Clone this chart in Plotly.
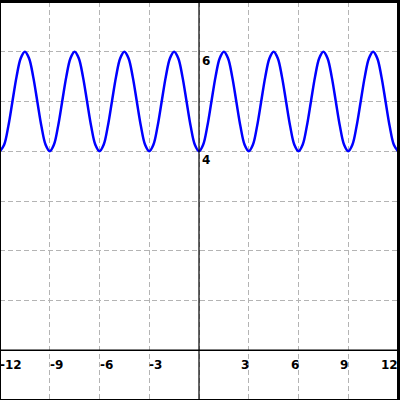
import plotly.graph_objects as go

# Curve samples (step 0.25 in x)
x_start = -12.0
x_step = 0.25
y_values = [
    4, 4.13, 4.5, 5, 5.5, 5.87, 6, 5.87, 5.5, 5, 4.5, 4.13,
    4, 4.13, 4.5, 5, 5.5, 5.87, 6, 5.87, 5.5, 5, 4.5, 4.13,
    4, 4.13, 4.5, 5, 5.5, 5.87, 6, 5.87, 5.5, 5, 4.5, 4.13,
    4, 4.13, 4.5, 5, 5.5, 5.87, 6, 5.87, 5.5, 5, 4.5, 4.13,
    4, 4.13, 4.5, 5, 5.5, 5.87, 6, 5.87, 5.5, 5, 4.5, 4.13,
    4, 4.13, 4.5, 5, 5.5, 5.87, 6, 5.87, 5.5, 5, 4.5, 4.13,
    4, 4.13, 4.5, 5, 5.5, 5.87, 6, 5.87, 5.5, 5, 4.5, 4.13,
    4, 4.13, 4.5, 5, 5.5, 5.87, 6, 5.87, 5.5, 5, 4.5, 4.13,
    4,
]
x_values = [x_start + i * x_step for i in range(len(y_values))]

x_tick_vals = [-12, -9, -6, -3, 3, 6, 9, 12]
x_tick_text = ["-12", "-9", "-6", "-3", "3", "6", "9", "12"]
y_tick_vals = [6, 4]
y_tick_text = ["6", "4"]

fig = go.Figure()
fig.add_trace(go.Scatter(
    x=x_values, y=y_values, mode="lines",
    line=dict(color="#0000ff", width=2.5, shape="spline"),
    hoverinfo="skip",
))

grid = dict(showgrid=True, gridcolor="#b4b4b4", gridwidth=1, griddash="5px,3px",
            zeroline=False, showticklabels=False, ticks="", showline=True,
            linecolor="black", linewidth=2, mirror=True)

fig.update_xaxes(range=[-12, 12], dtick=3, tick0=0, **grid)
fig.update_yaxes(range=[-1, 7], dtick=1, tick0=0, **grid)

# axes through the origin
fig.add_shape(type="line", xref="x", yref="paper", x0=0, x1=0, y0=0, y1=1,
              line=dict(color="black", width=1.2), layer="above")
fig.add_shape(type="line", xref="paper", yref="y", x0=0, x1=1, y0=0, y1=0,
              line=dict(color="black", width=1.5), layer="above")
fig.add_shape(type="rect", xref="paper", yref="paper", x0=0, x1=1, y0=0, y1=1,
              line=dict(color="black", width=2), fillcolor="rgba(0,0,0,0)")

font = dict(family="DejaVu Sans", size=12, color="black")
for v, t in zip(x_tick_vals, x_tick_text):
    if v < 0:
        fig.add_annotation(x=v, y=-0.3, text="<b>" + t + "</b>", showarrow=False,
                           xanchor="left", yanchor="middle", font=font, xshift=-2)
    else:
        fig.add_annotation(x=v, y=-0.3, text="<b>" + t + "</b>", showarrow=False,
                           xanchor="right", yanchor="middle", font=font, xshift=2)
for v, t in zip(y_tick_vals, y_tick_text):
    fig.add_annotation(x=0, y=v, text="<b>" + t + "</b>", showarrow=False,
                       xanchor="left", yanchor="top", font=font, xshift=1, yshift=0)

fig.update_layout(
    width=400, height=400,
    margin=dict(l=0, r=0, t=0, b=0),
    paper_bgcolor="white", plot_bgcolor="white",
    showlegend=False,
)
fig.write_html("out.html", config={"displayModeBar": False},
               post_script="document.body.style.margin='0';document.body.style.overflow='hidden';")
